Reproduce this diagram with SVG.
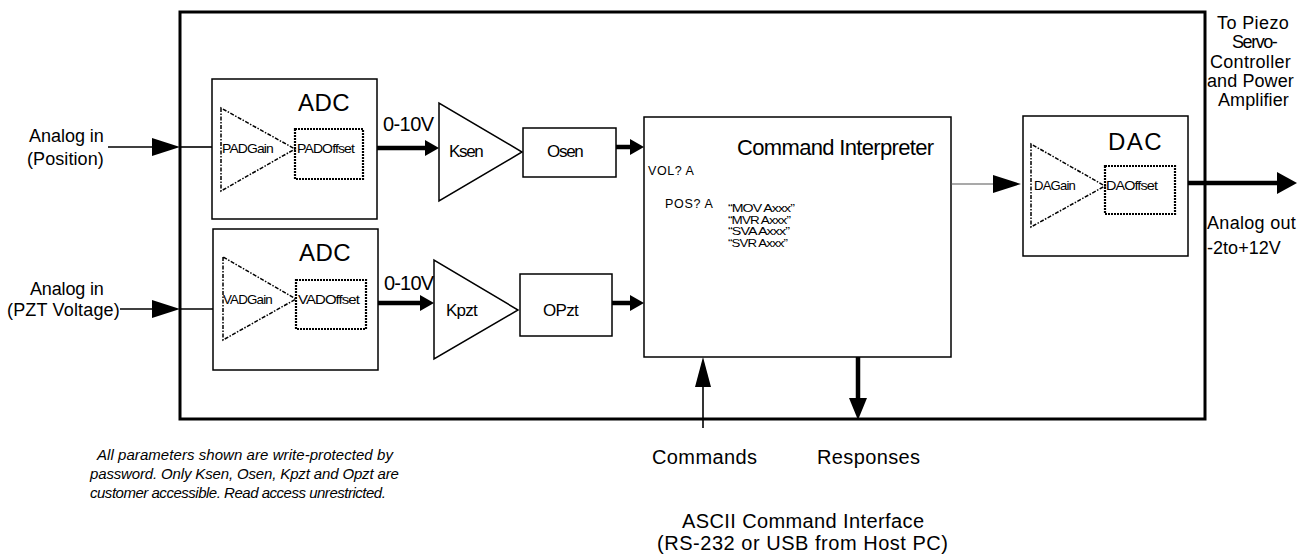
<svg xmlns="http://www.w3.org/2000/svg" width="1313" height="555" viewBox="0 0 1313 555">
  <style>
    text { font-family: "Liberation Sans", Arial, sans-serif; fill: #000; }
    .lbl { font-size: 18px; letter-spacing: -0.8px; }
    .blk { font-size: 17px; letter-spacing: -0.8px; }
    .big { font-size: 24px; letter-spacing: -1.5px; }
    .mid { font-size: 20px; letter-spacing: -1px; }
    .sm { font-size: 13px; letter-spacing: -0.8px; }
    .xs { font-size: 12.5px; letter-spacing: -0.8px; }
    .cmd { font-size: 10.5px; letter-spacing: -0.7px; }
    .note { font-size: 15px; font-style: italic; letter-spacing: -0.9px; }
    .box { fill: #fff; stroke: #000; stroke-width: 1.5; }
    .frame { fill: none; stroke: #000; stroke-width: 3; }
    .gain { fill: none; stroke: #000; stroke-width: 1.5; stroke-dasharray: 4 1.5 1.5 1.5; }
    .offs { fill: none; stroke: #000; stroke-width: 2.2; stroke-dasharray: 2 1; }
    .thin { stroke: #000; stroke-width: 1.6; fill: none; }
    .thick { stroke: #000; stroke-width: 4.5; fill: none; }
  </style>
  <defs>
    <marker id="ahIn" markerUnits="userSpaceOnUse" markerWidth="28" markerHeight="18" refX="2" refY="9" orient="auto">
      <path d="M0,0 L28,9 L0,18 z" fill="#000"/>
    </marker>
    <marker id="ahBus" markerUnits="userSpaceOnUse" markerWidth="14" markerHeight="16" refX="2" refY="8" orient="auto">
      <path d="M0,0 L14,8 L0,16 z" fill="#000"/>
    </marker>
    <marker id="ahOut" markerUnits="userSpaceOnUse" markerWidth="20" markerHeight="22" refX="2" refY="11" orient="auto">
      <path d="M0,0 L20,11 L0,22 z" fill="#000"/>
    </marker>
    <marker id="ahCmd" markerUnits="userSpaceOnUse" markerWidth="30" markerHeight="16" refX="2" refY="8" orient="auto">
      <path d="M0,0 L30,8 L0,16 z" fill="#000"/>
    </marker>
    <marker id="ahResp" markerUnits="userSpaceOnUse" markerWidth="22" markerHeight="18" refX="2" refY="9" orient="auto">
      <path d="M0,0 L22,9 L0,18 z" fill="#000"/>
    </marker>
  </defs>

  <rect width="1313" height="555" fill="#fff"/>

  <!-- controller enclosure -->
  <rect id="enclosure" class="frame" x="180" y="12" width="1025" height="407"/>

  <!-- position ADC -->
  <g id="adc-position">
    <rect class="box" x="212" y="79" width="165" height="140"/>
    <text class="big" x="298" y="111" textLength="50">ADC</text>
    <polygon class="gain" points="221,108 221,191 295,149"/>
    <rect class="offs" x="295" y="129" width="68" height="50"/>
    <text class="sm" x="222" y="153" textLength="51" lengthAdjust="spacingAndGlyphs">PADGain</text>
    <text class="sm" x="297" y="153" textLength="57" lengthAdjust="spacingAndGlyphs">PADOffset</text>
  </g>

  <!-- PZT voltage ADC -->
  <g id="adc-voltage">
    <rect class="box" x="213" y="229" width="165" height="141"/>
    <text class="big" x="299" y="261" textLength="50">ADC</text>
    <polygon class="gain" points="223,257 223,340 296,299"/>
    <rect class="offs" x="296" y="280" width="70" height="49"/>
    <text class="sm" x="223" y="304" textLength="49" lengthAdjust="spacingAndGlyphs">VADGain</text>
    <text class="sm" x="298" y="304" textLength="61" lengthAdjust="spacingAndGlyphs">VADOffset</text>
  </g>

  <!-- sensor gain / offset -->
  <g id="ksen">
    <polygon class="box" points="439,103 439,201 522,152"/>
    <text class="blk" x="449" y="157" textLength="34">Ksen</text>
  </g>
  <g id="osen">
    <rect class="box" x="523" y="128" width="93" height="49"/>
    <text class="blk" x="547" y="157" textLength="36">Osen</text>
  </g>

  <!-- PZT voltage gain / offset -->
  <g id="kpzt">
    <polygon class="box" points="434,260 434,359 518,310"/>
    <text class="blk" x="446" y="316" textLength="31">Kpzt</text>
  </g>
  <g id="opzt">
    <rect class="box" x="520" y="274" width="92" height="62"/>
    <text class="blk" x="543" y="316" textLength="35">OPzt</text>
  </g>

  <!-- command interpreter -->
  <g id="command-interpreter">
    <rect class="box" x="644" y="117" width="307" height="240" stroke-width="2"/>
    <text x="737" y="155" font-size="22" letter-spacing="-1.2" textLength="196">Command Interpreter</text>
    <text class="xs" x="648" y="175" textLength="45">VOL? A</text>
    <text class="xs" x="665" y="208" textLength="47">POS? A</text>
    <text class="cmd" x="728" y="212" textLength="66" lengthAdjust="spacingAndGlyphs">“MOV Axxx”</text>
    <text class="cmd" x="728" y="223.5" textLength="62" lengthAdjust="spacingAndGlyphs">“MVR Axxx”</text>
    <text class="cmd" x="728" y="235" textLength="61" lengthAdjust="spacingAndGlyphs">“SVA Axxx”</text>
    <text class="cmd" x="728" y="246.5" textLength="59" lengthAdjust="spacingAndGlyphs">“SVR Axxx”</text>
  </g>

  <!-- output DAC -->
  <g id="dac">
    <rect class="box" x="1023" y="116" width="165" height="140"/>
    <text class="big" x="1108" y="150" textLength="52">DAC</text>
    <polygon class="gain" points="1031,144 1031,227 1105,186"/>
    <rect class="offs" x="1105" y="166" width="70" height="48"/>
    <text class="sm" x="1034" y="190" textLength="41" lengthAdjust="spacingAndGlyphs">DAGain</text>
    <text class="sm" x="1106" y="190" textLength="51" lengthAdjust="spacingAndGlyphs">DAOffset</text>
  </g>

  <!-- signal paths -->
  <g id="connectors">
    <line class="thin" x1="108" y1="147" x2="154" y2="147" marker-end="url(#ahIn)"/>
    <line class="thin" x1="180" y1="147" x2="212" y2="147"/>
    <line class="thin" x1="120" y1="309" x2="154" y2="309" marker-end="url(#ahIn)"/>
    <line class="thin" x1="180" y1="309" x2="213" y2="309"/>
    <line class="thick" x1="377" y1="148" x2="427" y2="148" marker-end="url(#ahBus)"/>
    <line class="thick" x1="378" y1="303" x2="422" y2="303" marker-end="url(#ahBus)"/>
    <line class="thick" x1="616" y1="147" x2="632" y2="147" stroke-width="4" marker-end="url(#ahBus)"/>
    <line class="thick" x1="612" y1="303" x2="632" y2="303" stroke-width="4" marker-end="url(#ahBus)"/>
    <line x1="951" y1="184" x2="995" y2="184" stroke="#555" stroke-width="1.2" marker-end="url(#ahIn)"/>
    <line class="thick" x1="1188" y1="183" x2="1279" y2="183" stroke-width="5" marker-end="url(#ahOut)"/>
    <line class="thin" x1="703" y1="428" x2="703" y2="385" marker-end="url(#ahCmd)"/>
    <line class="thick" x1="858" y1="357" x2="858" y2="400" stroke-width="4" marker-end="url(#ahResp)"/>
  </g>

  <!-- external labels -->
  <g id="labels">
    <text class="lbl" x="29" y="142" textLength="74">Analog in</text>
    <text class="lbl" x="27" y="165" textLength="76">(Position)</text>
    <text class="lbl" x="30" y="295" textLength="73">Analog in</text>
    <text class="lbl" x="7" y="316" textLength="112">(PZT Voltage)</text>
    <text class="mid" x="383" y="131" textLength="50">0-10V</text>
    <text class="mid" x="384" y="290" textLength="49">0-10V</text>
    <text class="lbl" x="1217" y="29" textLength="71">To Piezo</text>
    <text class="lbl" x="1232" y="48" textLength="45">Servo-</text>
    <text class="lbl" x="1210" y="68" textLength="80">Controller</text>
    <text class="lbl" x="1207" y="87" textLength="86">and Power</text>
    <text class="lbl" x="1218" y="106" textLength="70">Amplifier</text>
    <text class="lbl" x="1207" y="229" textLength="88">Analog out</text>
    <text class="lbl" x="1207" y="254" textLength="73">-2to+12V</text>
    <text class="mid" x="652" y="464" textLength="104">Commands</text>
    <text class="mid" x="817" y="464" textLength="102">Responses</text>
    <text class="mid" x="682" y="528" textLength="241">ASCII Command Interface</text>
    <text class="mid" x="657" y="550" textLength="290">(RS-232 or USB from Host PC)</text>
    <text class="note" x="97" y="460" textLength="295">All parameters shown are write-protected by</text>
    <text class="note" x="90" y="479" textLength="308">password. Only Ksen, Osen, Kpzt and Opzt are</text>
    <text class="note" x="90" y="498" textLength="295">customer accessible. Read access unrestricted.</text>
  </g>
</svg>
